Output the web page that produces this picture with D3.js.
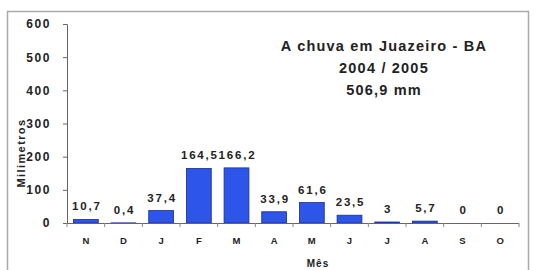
<!DOCTYPE html>
<html>
<head>
<meta charset="utf-8">
<script src="https://cdn.jsdelivr.net/npm/d3@7"></script>
<style>
  body { margin: 0; background: #fff; }
  svg text { font-family: Arial, "Liberation Sans", sans-serif; font-weight: bold; fill: #222; }
</style>
</head>
<body>
<svg id="chart" width="536" height="270"></svg>
<script>
const months = ["N", "D", "J", "F", "M", "A", "M", "J", "J", "A", "S", "O"];
const rain = [10.7, 0.4, 37.4, 164.5, 166.2, 33.9, 61.6, 23.5, 3, 5.7, 0, 0];
const yTicks = [0, 100, 200, 300, 400, 500, 600];
const titleLines = ["A chuva em Juazeiro - BA", "2004 / 2005", "506,9 mm"];

const svg = d3.select("#chart");
const m = { left: 67, right: 519, top: 24, bottom: 223 };

// moldura
svg.append("rect")
  .attr("x", 7.5).attr("y", 11.5)
  .attr("width", 521).attr("height", 270)
  .attr("fill", "none").attr("stroke", "#aaa").attr("stroke-width", 1.5);

const x = d3.scaleBand()
  .domain(d3.range(months.length))
  .range([m.left, m.right])
  .paddingInner(0.34).paddingOuter(0.17);

const y = d3.scaleLinear().domain([0, 600]).range([m.bottom, m.top]);

const fmt = (v) => String(v).replace(".", ",");

// eixo y
const gy = svg.append("g").attr("transform", `translate(${m.left},0)`)
  .call(d3.axisLeft(y).tickValues(yTicks).tickSize(4).tickPadding(12));
gy.select(".domain").attr("stroke", "#666");
gy.selectAll(".tick line").attr("stroke", "#666");
gy.selectAll(".tick text").attr("font-size", 12).attr("fill", "#222")
  .attr("letter-spacing", 1.6)
  .attr("font-family", "Arial, 'Liberation Sans', sans-serif").attr("font-weight", "bold");

// barras
svg.append("g").selectAll("rect")
  .data(rain)
  .join("rect")
  .attr("x", (d, i) => x(i))
  .attr("y", (d) => y(d))
  .attr("width", x.bandwidth())
  .attr("height", (d) => y(0) - y(d))
  .attr("fill", "#2d55ea")
  .attr("stroke", "#1a2f8f")
  .attr("stroke-width", 0.8);

// eixo x
const bounds = d3.range(months.length + 1).map((i) => m.left + i * (m.right - m.left) / months.length);
svg.append("line")
  .attr("x1", m.left).attr("x2", m.right)
  .attr("y1", y(0) + 0.5).attr("y2", y(0) + 0.5)
  .attr("stroke", "#666");
svg.append("g").selectAll("line")
  .data(bounds)
  .join("line")
  .attr("x1", (d) => d).attr("x2", (d) => d)
  .attr("y1", y(0)).attr("y2", y(0) + 4)
  .attr("stroke", "#888");

svg.append("g").selectAll("text")
  .data(months)
  .join("text")
  .attr("x", (d, i) => x(i) + x.bandwidth() / 2)
  .attr("y", 244)
  .attr("text-anchor", "middle")
  .attr("font-size", 9.5)
  .text((d) => d);

// rótulos de valor
svg.append("g").selectAll("text")
  .data(rain)
  .join("text")
  .attr("x", (d, i) => x(i) + x.bandwidth() / 2 + 1)
  .attr("y", (d) => y(d) - 9)
  .attr("text-anchor", "middle")
  .attr("font-size", 11.5)
  .attr("letter-spacing", 1.8)
  .text((d) => fmt(d));

// títulos dos eixos
svg.append("text")
  .attr("x", 318).attr("y", 267)
  .attr("text-anchor", "middle").attr("font-size", 10)
  .attr("letter-spacing", 1)
  .text("Mês");
svg.append("text")
  .attr("transform", "translate(25,153) rotate(-90)")
  .attr("text-anchor", "middle").attr("font-size", 11)
  .attr("letter-spacing", 1.4)
  .text("Milimetros");

// título
svg.append("g").selectAll("text")
  .data(titleLines)
  .join("text")
  .attr("x", 384)
  .attr("y", (d, i) => 51 + i * 22)
  .attr("text-anchor", "middle")
  .attr("font-size", 14.5)
  .attr("letter-spacing", 1.2)
  .text((d) => d);
</script>
</body>
</html>
